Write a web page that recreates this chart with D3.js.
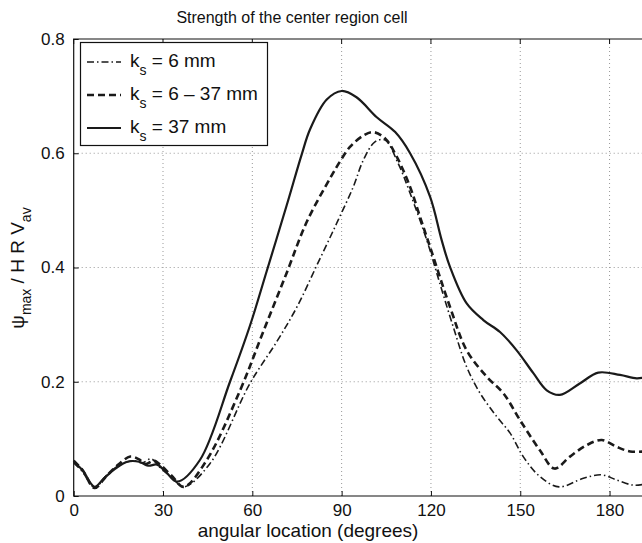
<!DOCTYPE html>
<html>
<head>
<meta charset="utf-8">
<script src="https://cdn.jsdelivr.net/npm/d3@7"></script>
<style>
  body { margin: 0; background: #fff; }
  svg { display: block; font-family: "Liberation Sans", Arial, sans-serif; }
</style>
</head>
<body>
<div id="chart"></div>
<script>
// values: [angle (deg), psi_max / (H R V_av)]
const ks6 = [
  [0, 0.058], [3, 0.042], [7, 0.015], [11, 0.036], [15, 0.053], [20, 0.062], [23, 0.058],
  [26, 0.065], [29, 0.05], [33, 0.032], [37, 0.016], [45.8, 0.057], [59.2, 0.197],
  [68.2, 0.27], [74.9, 0.33], [81.6, 0.403], [88.3, 0.477], [93.9, 0.541], [97.3, 0.588],
  [101.2, 0.62], [104.6, 0.623], [109, 0.582], [113, 0.53], [118.6, 0.448], [123, 0.372],
  [127.5, 0.296], [132, 0.226], [136.5, 0.18], [142.1, 0.139], [146.6, 0.11], [151, 0.069],
  [156.6, 0.034], [163, 0.016], [171.2, 0.031], [177.4, 0.037], [182.4, 0.028], [188, 0.019],
  [192, 0.021]
];
const ks6to37 = [
  [0, 0.062], [3, 0.045], [7, 0.014], [11, 0.035], [15, 0.055], [19, 0.069], [22, 0.064],
  [24, 0.056], [27, 0.062], [29, 0.055], [33, 0.035], [37, 0.016], [44.7, 0.063],
  [55.9, 0.185], [63.7, 0.288], [71.5, 0.39], [78.3, 0.48], [86.1, 0.556], [89.5, 0.586],
  [92.8, 0.611], [97.3, 0.631], [100.6, 0.637], [104.6, 0.626], [108.5, 0.594], [113, 0.541],
  [116.3, 0.489], [119.7, 0.436], [126.4, 0.331], [132, 0.255], [138.7, 0.209], [144.3, 0.18],
  [149.9, 0.133], [156.6, 0.08], [161.5, 0.048], [166.7, 0.069], [172.3, 0.089],
  [177.4, 0.098], [182.4, 0.086], [186.9, 0.078], [192, 0.078]
];
const ks37 = [
  [0, 0.06], [3, 0.045], [7, 0.016], [10, 0.03], [14, 0.048], [18, 0.06], [22, 0.06],
  [25, 0.053], [28, 0.055], [31, 0.042], [34.7, 0.025], [42.4, 0.063], [52.5, 0.2],
  [59.2, 0.298], [64.8, 0.393], [71.5, 0.508], [76.6, 0.598], [79.4, 0.642], [85, 0.694],
  [90, 0.709], [95, 0.698], [101.8, 0.663], [108, 0.637], [113, 0.6], [119.7, 0.524],
  [123.6, 0.448], [126.4, 0.401], [132, 0.337], [137.6, 0.308], [143.2, 0.287],
  [148.8, 0.255], [154.4, 0.215], [158.9, 0.185], [163.3, 0.177], [170, 0.197],
  [176.2, 0.216], [183.5, 0.212], [189.1, 0.206], [192, 0.208]
];

const xTicks = [0, 30, 60, 90, 120, 150, 180];
const yTicks = [0, 0.2, 0.4, 0.6, 0.8];
const legendLabels = [
  {k: 'k', sub: 's', rest: ' = 6 mm'},
  {k: 'k', sub: 's', rest: ' = 6 \u2013 37 mm'},
  {k: 'k', sub: 's', rest: ' = 37 mm'}
];

const width = 642, height = 543;
const margin = {left: 73.7, top: 39, bottom: 496};

const svg = d3.select('#chart').append('svg')
  .attr('width', width)
  .attr('height', height);

const x = d3.scaleLinear().domain([0, 200]).range([margin.left, margin.left + 200 * 2.977]);
const y = d3.scaleLinear().domain([0, 0.8]).range([margin.bottom, margin.top]);

// grid
const grid = svg.append('g').attr('class', 'grid')
  .style('stroke', '#999').style('stroke-width', 1).style('stroke-dasharray', '1,3');
grid.selectAll('.gx').data(xTicks.slice(1))
  .enter().append('line')
  .attr('x1', d => x(d)).attr('x2', d => x(d))
  .attr('y1', margin.top).attr('y2', margin.bottom);
grid.selectAll('.gy').data(yTicks.slice(1, -1))
  .enter().append('line')
  .attr('x1', margin.left).attr('x2', width)
  .attr('y1', d => y(d)).attr('y2', d => y(d));

// axes (MATLAB style, ticks inward)
const xAxis = d3.axisBottom(x).tickValues(xTicks).tickSize(-5).tickPadding(8)
  .tickFormat(d3.format('d'));
const yAxis = d3.axisLeft(y).tickValues(yTicks).tickSize(-5).tickPadding(9)
  .tickFormat(d => d === 0 ? '0' : d3.format('.1f')(d));

const gx = svg.append('g').attr('transform', 'translate(0,' + margin.bottom + ')').call(xAxis);
const gy = svg.append('g').attr('transform', 'translate(' + margin.left + ',0)').call(yAxis);
[gx, gy].forEach(g => {
  g.select('.domain').remove();
  g.selectAll('text').style('font-size', '17px').style('fill', '#111');
  g.selectAll('line').style('stroke', '#111');
});
gx.selectAll('text').attr('dy', '0.72em');

// top ticks
svg.append('g').selectAll('line').data(xTicks)
  .enter().append('line')
  .attr('x1', d => x(d)).attr('x2', d => x(d))
  .attr('y1', margin.top).attr('y2', margin.top + 5)
  .style('stroke', '#111');

// box
svg.append('path')
  .attr('d', 'M' + width + ',' + margin.top + 'H' + margin.left + 'V' + margin.bottom + 'H' + width)
  .style('fill', 'none').style('stroke', '#111').style('stroke-width', 1.2);

// curves
const line = d3.line()
  .x(d => x(d[0]))
  .y(d => y(d[1]))
  .curve(d3.curveCatmullRom.alpha(0.5));

const series = [
  {data: ks6, dash: '7,3,1.5,3', w: 1.6},
  {data: ks6to37, dash: '7,4', w: 2.6},
  {data: ks37, dash: null, w: 2.2}
];

svg.append('g').selectAll('path').data(series)
  .enter().append('path')
  .attr('d', d => line(d.data))
  .style('fill', 'none')
  .style('stroke', '#1a1a1a')
  .style('stroke-width', d => d.w)
  .style('stroke-dasharray', d => d.dash);

// legend
const lg = svg.append('g');
lg.append('rect')
  .attr('x', 80.5).attr('y', 42.5).attr('width', 187).attr('height', 103)
  .style('fill', '#fff').style('stroke', '#111').style('stroke-width', 1.2);

const rowY = [62, 95, 128];
const rows = lg.selectAll('.row').data(series)
  .enter().append('g')
  .attr('transform', (d, i) => 'translate(0,' + rowY[i] + ')');
rows.append('line')
  .attr('x1', 87).attr('x2', 121)
  .attr('y1', 0).attr('y2', 0)
  .style('stroke', '#1a1a1a')
  .style('stroke-width', d => d.w)
  .style('stroke-dasharray', d => d.dash);

const lt = rows.append('text')
  .attr('x', 130).attr('y', 5)
  .style('font-size', '19px').style('fill', '#111');
lt.append('tspan').text((d, i) => legendLabels[i].k);
lt.append('tspan').attr('dy', 8).style('font-size', '14px').text((d, i) => legendLabels[i].sub);
lt.append('tspan').attr('dy', -8).text((d, i) => legendLabels[i].rest);

// title and axis labels
svg.append('text')
  .attr('x', 292).attr('y', 23)
  .attr('text-anchor', 'middle')
  .style('font-size', '16px').style('fill', '#111')
  .text('Strength of the center region cell');

svg.append('text')
  .attr('x', 308).attr('y', 537)
  .attr('text-anchor', 'middle')
  .style('font-size', '19px').style('fill', '#111')
  .text('angular location (degrees)');

const yl = svg.append('text')
  .attr('transform', 'translate(24,' + 268 + ') rotate(-90)')
  .attr('text-anchor', 'middle')
  .style('font-size', '19px').style('fill', '#111');
yl.append('tspan').text('\u03c8');
yl.append('tspan').attr('dy', 7).style('font-size', '14px').text('max');
yl.append('tspan').attr('dy', -7).text(' / H R V');
yl.append('tspan').attr('dy', 7).style('font-size', '14px').text('av');
</script>
</body>
</html>
